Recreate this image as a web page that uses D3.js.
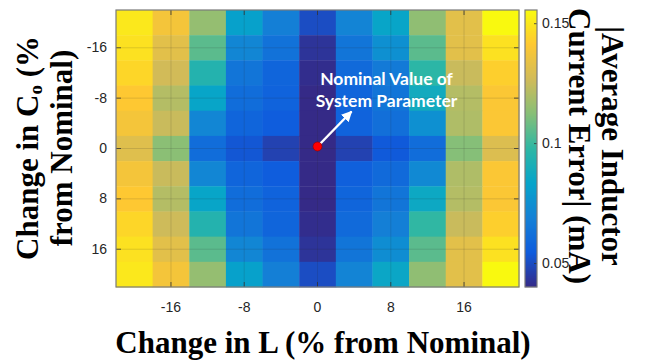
<!DOCTYPE html>
<html>
<head>
<meta charset="utf-8">
<script src="https://cdn.jsdelivr.net/npm/d3@7"></script>
<style>
  body { margin: 0; background: #fff; }
  .tick text { font-family: "Liberation Sans Narrow", "Arial Narrow", "Liberation Sans", sans-serif; font-size: 14px; fill: #262626; }
</style>
</head>
<body>
<svg id="chart" width="646" height="360"></svg>
<script>
// % change in L (columns) and in Co (rows)
const lChanges = [-20, -16, -12, -8, -4, 0, 4, 8, 12, 16, 20];
const cChanges = [-20, -16, -12, -8, -4, 0, 4, 8, 12, 16, 20];
const xTicks = [-16, -8, 0, 8, 16];
const yTicks = [-16, -8, 0, 8, 16];
const colorTicks = [0.05, 0.1, 0.15];
const colorLimits = [0.04, 0.1555];

// |average inductor current error| (mA), one row per Co change, columns follow lChanges
const errorRows = [
  [0.150, 0.138, 0.115, 0.082, 0.068, 0.050, 0.070, 0.084, 0.114, 0.132, 0.155],
  [0.148, 0.132, 0.105, 0.071, 0.063, 0.043, 0.064, 0.075, 0.105, 0.132, 0.148],
  [0.145, 0.127, 0.094, 0.064, 0.058, 0.041, 0.060, 0.066, 0.097, 0.125, 0.143],
  [0.141, 0.121, 0.084, 0.061, 0.057, 0.040, 0.058, 0.064, 0.088, 0.121, 0.140],
  [0.138, 0.125, 0.071, 0.058, 0.055, 0.040, 0.057, 0.062, 0.075, 0.120, 0.140],
  [0.131, 0.113, 0.061, 0.053, 0.047, 0.039, 0.047, 0.054, 0.061, 0.112, 0.130],
  [0.138, 0.125, 0.071, 0.058, 0.055, 0.040, 0.056, 0.060, 0.072, 0.120, 0.140],
  [0.141, 0.121, 0.084, 0.061, 0.057, 0.040, 0.058, 0.064, 0.086, 0.121, 0.140],
  [0.145, 0.126, 0.094, 0.064, 0.058, 0.041, 0.060, 0.068, 0.098, 0.125, 0.143],
  [0.148, 0.132, 0.105, 0.071, 0.063, 0.043, 0.064, 0.074, 0.105, 0.132, 0.148],
  [0.150, 0.138, 0.115, 0.082, 0.068, 0.050, 0.070, 0.085, 0.114, 0.132, 0.155]
];

// parula-like colormap
const parulaStops = ["#352a87", "#0f5cdd", "#1481d6", "#06a4ca", "#2eb7a4",
                     "#87bf77", "#d1bb59", "#fec832", "#f9fb0e"];

const svg = d3.select("#chart");
const plot = { left: 116, right: 519, top: 10, bottom: 287 };
const bar = { left: 525, right: 537 };

const xScale = d3.scaleBand().domain(lChanges).range([plot.left, plot.right]);
const yScale = d3.scaleBand().domain(cChanges).range([plot.top, plot.bottom]);
const colorScale = d3
  .scaleSequential(d3.piecewise(d3.interpolateRgb, parulaStops))
  .domain(colorLimits)
  .clamp(true);

const cells = [];
errorRows.forEach((row, i) => {
  row.forEach((v, j) => cells.push({ l: lChanges[j], c: cChanges[i], value: v }));
});

svg
  .append("g")
  .selectAll("rect")
  .data(cells)
  .join("rect")
  .attr("x", (d) => xScale(d.l))
  .attr("y", (d) => yScale(d.c))
  .attr("width", xScale.bandwidth() + 0.4)
  .attr("height", yScale.bandwidth() + 0.4)
  .attr("fill", (d) => colorScale(d.value));

// faint grid lines at the ticks
const grid = svg.append("g").attr("stroke", "#262626").attr("stroke-opacity", 0.15);
grid
  .selectAll("line.vx")
  .data(xTicks)
  .join("line")
  .attr("x1", (d) => xScale(d) + xScale.bandwidth() / 2)
  .attr("x2", (d) => xScale(d) + xScale.bandwidth() / 2)
  .attr("y1", plot.top)
  .attr("y2", plot.bottom);
grid
  .selectAll("line.hy")
  .data(yTicks)
  .join("line")
  .attr("y1", (d) => yScale(d) + yScale.bandwidth() / 2)
  .attr("y2", (d) => yScale(d) + yScale.bandwidth() / 2)
  .attr("x1", plot.left)
  .attr("x2", plot.right);

// axes with inward ticks on all four sides
function styleAxis(g) {
  g.select(".domain").remove();
  g.selectAll(".tick line").attr("stroke", "#333").attr("stroke-opacity", 0.8);
}
svg
  .append("g")
  .attr("transform", `translate(0,${plot.bottom})`)
  .call(d3.axisBottom(xScale).tickValues(xTicks).tickSizeInner(-5).tickSizeOuter(0).tickPadding(15))
  .call(styleAxis);
svg
  .append("g")
  .attr("transform", `translate(0,${plot.top})`)
  .call(d3.axisTop(xScale).tickValues(xTicks).tickSizeInner(-5).tickSizeOuter(0).tickFormat(""))
  .call(styleAxis);
svg
  .append("g")
  .attr("transform", `translate(${plot.left},0)`)
  .call(d3.axisLeft(yScale).tickValues(yTicks).tickSizeInner(-5).tickSizeOuter(0).tickPadding(9))
  .call(styleAxis);
svg
  .append("g")
  .attr("transform", `translate(${plot.right},0)`)
  .call(d3.axisRight(yScale).tickValues(yTicks).tickSizeInner(-5).tickSizeOuter(0).tickFormat(""))
  .call(styleAxis);

svg
  .append("rect")
  .attr("x", plot.left)
  .attr("y", plot.top)
  .attr("width", plot.right - plot.left)
  .attr("height", plot.bottom - plot.top)
  .attr("fill", "none")
  .attr("stroke", "#7a7a7a")
  .attr("stroke-width", 1.2);

// colorbar
const barScale = d3.scaleLinear().domain(colorLimits).range([plot.bottom, plot.top]);
svg
  .append("g")
  .selectAll("rect")
  .data(d3.range(plot.top, plot.bottom, 1))
  .join("rect")
  .attr("x", bar.left)
  .attr("y", (d) => d)
  .attr("width", bar.right - bar.left)
  .attr("height", 1.2)
  .attr("fill", (d) => colorScale(barScale.invert(d + 0.5)));

svg
  .append("g")
  .attr("transform", `translate(${bar.right},0)`)
  .call(d3.axisRight(barScale).tickValues(colorTicks).tickSizeInner(-3).tickSizeOuter(0).tickPadding(5).tickFormat(d3.format("~g")))
  .call(styleAxis);

svg
  .append("rect")
  .attr("x", bar.left)
  .attr("y", plot.top)
  .attr("width", bar.right - bar.left)
  .attr("height", plot.bottom - plot.top)
  .attr("fill", "none")
  .attr("stroke", "#7a7a7a")
  .attr("stroke-width", 1.2);

// nominal point annotation
const cx = xScale(0) + xScale.bandwidth() / 2;
const cy = yScale(0) + yScale.bandwidth() / 2 - 2;

svg
  .append("defs")
  .append("marker")
  .attr("id", "head")
  .attr("viewBox", "0 0 10 10")
  .attr("refX", 9)
  .attr("refY", 5)
  .attr("markerWidth", 4.5)
  .attr("markerHeight", 4.5)
  .attr("orient", "auto")
  .append("path")
  .attr("d", "M0,0 L10,5 L0,10 Z")
  .attr("fill", "#fff");

svg
  .append("line")
  .attr("x1", cx)
  .attr("y1", cy)
  .attr("x2", cx + 34)
  .attr("y2", cy - 35)
  .attr("stroke", "#fff")
  .attr("stroke-width", 2.4)
  .attr("marker-end", "url(#head)");

svg
  .append("circle")
  .attr("cx", cx)
  .attr("cy", cy)
  .attr("r", 4.5)
  .attr("fill", "#ff0000")
  .attr("stroke", "#8b0000")
  .attr("stroke-width", 0.6);

const note = svg
  .append("text")
  .attr("text-anchor", "middle")
  .attr("fill", "#fff")
  .style("font-family", "Lato, 'Open Sans', sans-serif")
  .style("font-weight", "bold")
  .style("font-size", "17.5px");
note.append("tspan").attr("x", cx + 69).attr("y", cy - 61.5).text("Nominal Value of");
note.append("tspan").attr("x", cx + 69).attr("y", cy - 39.5).text("System Parameter");

// axis titles
const titleFont = "'Liberation Serif', 'Times New Roman', serif";
svg
  .append("text")
  .attr("x", 323)
  .attr("y", 353)
  .attr("text-anchor", "middle")
  .style("font-family", titleFont)
  .style("font-weight", "bold")
  .style("font-size", "31px")
  .attr("fill", "#000")
  .text("Change in L (% from Nominal)");

const yTitle = svg
  .append("text")
  .attr("transform", "translate(38,148) rotate(-90)")
  .attr("text-anchor", "middle")
  .style("font-family", titleFont)
  .style("font-weight", "bold")
  .style("font-size", "31px")
  .attr("fill", "#000");
const yLine1 = yTitle.append("tspan").attr("x", 0).attr("y", 0);
yLine1.append("tspan").text("Change in C");
yLine1.append("tspan").style("font-size", "19px").attr("dy", 4).text("o");
yLine1.append("tspan").attr("dy", -4).text(" (%");
yTitle.append("tspan").attr("x", 0).attr("y", 34).text("from Nominal)");

const barTitle = svg
  .append("text")
  .attr("transform", "translate(602,146) rotate(90)")
  .attr("text-anchor", "middle")
  .style("font-family", titleFont)
  .style("font-weight", "bold")
  .style("font-size", "31px")
  .attr("fill", "#000");
barTitle.append("tspan").attr("x", 0).attr("y", 0).text("|Average Inductor");
barTitle.append("tspan").attr("x", 0).attr("y", 33).text("Current Error| (mA)");
</script>
</body>
</html>
